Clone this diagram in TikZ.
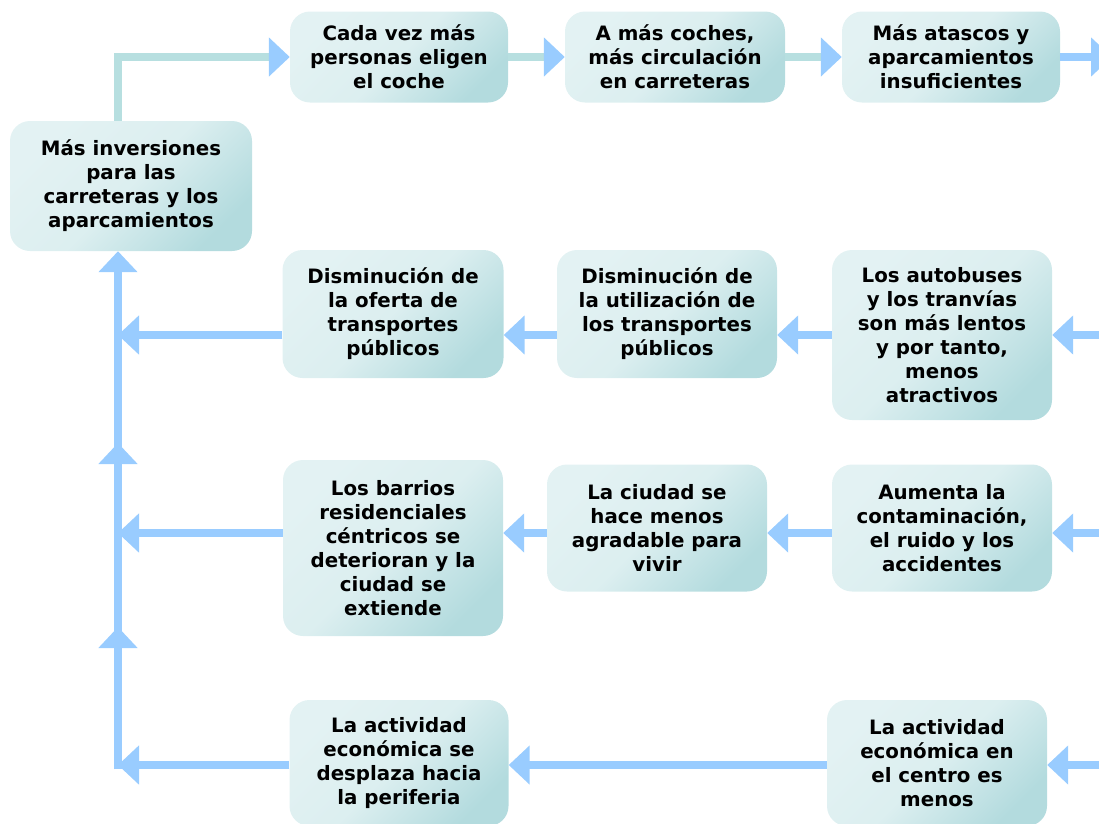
\documentclass[tikz,border=0pt]{standalone}
\usepackage{fontspec}
\setmainfont{DejaVu Sans}
\usepackage{tikz}
\usetikzlibrary{arrows.meta}
\usetikzlibrary{calc}
\definecolor{boxlight}{HTML}{E3F2F3}
\definecolor{boxdark}{HTML}{B3DBDE}
\definecolor{flowblue}{HTML}{99CCFF}
\definecolor{flowteal}{HTML}{B7DFE0}
\tikzset{
    box/.style={rectangle, rounded corners=20pt, top color=boxlight, bottom color=boxdark,
        middle color=boxlight!85!boxdark, shading angle=45, inner sep=0pt, align=center,
        font=\fontsize{19.8}{24}\selectfont\bfseries},
    flow/.style={draw=flowblue, line width=8pt,
        -{Triangle[length=21pt 0 0, width=38pt 0 0]}},
    flowtl/.style={draw=flowteal, line width=8pt,
        -{Triangle[length=21pt 0 0, width=38pt 0 0, color=flowblue]}},
}
\begin{document}
\begin{tikzpicture}[x=1pt, y=-1pt]
	\useasboundingbox (0,0) rectangle (1099,823);
	% top row
	\node[box, minimum width=242pt, minimum height=130pt] (inv) at (131,186) {M\'as inversiones\\para las\\carreteras y los\\aparcamientos};
	\node[box, minimum width=218pt, minimum height=91pt] (cada) at (399,57) {Cada vez m\'as\\personas eligen\\el coche};
	\node[box, minimum width=220pt, minimum height=91pt] (amas) at (675,57) {A m\'as coches,\\m\'as circulaci\'on\\en carreteras};
	\node[box, minimum width=218pt, minimum height=91pt] (atascos) at (951,57) {M\'as atascos y\\aparcamientos\\insuficientes};
	%
	\node[box, minimum width=221pt, minimum height=128pt] (oferta) at (393,314) {Disminuci\'on de\\la oferta de\\transportes\\p\'ublicos};
	\node[box, minimum width=220pt, minimum height=128pt] (utiliz) at (667,314) {Disminuci\'on de\\la utilizaci\'on de\\los transportes\\p\'ublicos};
	\node[box, minimum width=220pt, minimum height=170pt] (autob) at (942,335) {Los autobuses\\y los tranv\'ias\\son m\'as lentos\\y por tanto,\\menos\\atractivos};
	%
	\node[box, minimum width=220pt, minimum height=176pt] (barrios) at (393,548) {Los barrios\\residenciales\\c\'entricos se\\deterioran y la\\ciudad se\\extiende};
	\node[box, minimum width=220pt, minimum height=127pt] (ciudad) at (657,528) {La ciudad se\\hace menos\\agradable para\\vivir};
	\node[box, minimum width=220pt, minimum height=127pt] (aumenta) at (942,528) {Aumenta la\\contaminaci\'on,\\el ruido y los\\accidentes};
	%
	\node[box, minimum width=219pt, minimum height=126pt] (desplaza) at (399,763) {La actividad\\econ\'omica se\\desplaza hacia\\la periferia};
	\node[box, minimum width=220pt, minimum height=126pt] (centro) at (937,763) {La actividad\\econ\'omica en\\el centro es\\menos};
	%
	\coordinate (c4) at (118,769);
	\coordinate (u1) at (118,627);
	\coordinate (u2) at (118,443);
	\coordinate (e1) at (1112,57);
	\coordinate (e2) at (1112,335);
	\coordinate (e3) at (1112,533);
	\coordinate (e4) at (1112,765);
	% top row arrows
	\draw[flowtl] (inv.north -| c4) |- (cada.west);
	\draw[flowtl] (cada.east) -- (amas.west);
	\draw[flowtl] (amas.east) -- (atascos.west);
	\draw[flow] (atascos.east) -- (e1);
	% second row
	\draw[flow] (e2) -- (autob.east);
	\draw[flow] (autob.west) -- (utiliz.east |- e2);
	\draw[flow] (utiliz.west |- e2) -- (oferta.east |- e2);
	\draw[flow] (oferta.west |- e2) -- (c4 |- e2);
	% third row
	\draw[flow] (e3) -- (aumenta.east |- e3);
	\draw[flow] (aumenta.west |- e3) -- (ciudad.east |- e3);
	\draw[flow] (ciudad.west |- e3) -- (barrios.east |- e3);
	\draw[flow] (barrios.west |- e3) -- (c4 |- e3);
	% fourth row
	\draw[flow] (e4) -- (centro.east |- e4);
	\draw[flow] (centro.west |- e4) -- (desplaza.east |- e4);
	\draw[flow] (desplaza.west |- e4) -- (c4 |- e4);
	% back up to the investments
	\draw[flow] (c4) -- (inv.south -| c4);
	\draw[flow] (c4) -- (u2);
	\draw[flow] (c4) -- (u1);
\end{tikzpicture}
\end{document}
